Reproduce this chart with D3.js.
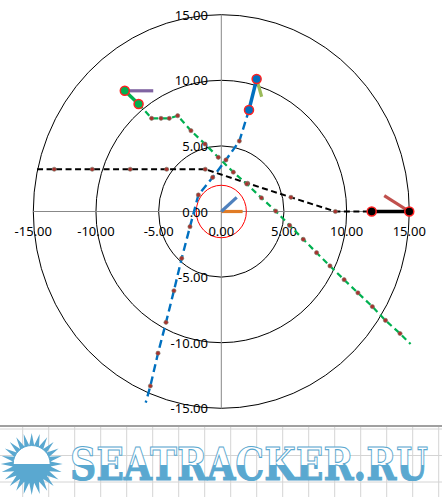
<!DOCTYPE html>
<html><head><meta charset="utf-8">
<script src="https://cdn.jsdelivr.net/npm/d3@7/dist/d3.min.js"></script>
<style>body{margin:0;background:#fff}svg{display:block}</style>
</head><body>
<svg id="c" width="442" height="497"></svg>
<script>
// ---- data ----
const ringRadii = [5, 10, 15];
const safetyRadius = 2;
const tickValues = [-15, -10, -5, 0, 5, 10, 15];
const tickLabels = ["-15.00", "-10.00", "-5.00", "0.00", "5.00", "10.00", "15.00"];

const blackTrack = [[-14.7,3.22],[-13.33,3.22],[-10.3,3.22],[-7.27,3.22],[-4.36,3.22],[-1.28,3.22],[2.1,2.15],[5.56,1.08],[9.1,0],[12,0]];
const blackBig = [[12,0],[15,0]];
const greenTrack = [[-6.6,8.2],[-5.56,7.1],[-4.81,7.1],[-4.15,7.1],[-3.48,7.3],[-2.42,6.16],[-1.3,5.14],[-0.24,4.13],[0.96,3.0],[2.03,2.1],[3.2,1.04],[4.34,0.03],[5.45,-1.06],[6.54,-2.12],[7.6,-3.14],[8.67,-4.15],[9.8,-5.2],[10.9,-6.2],[12.05,-7.25],[13.1,-8.3],[14.26,-9.3],[15.1,-10.1]];
const greenBig = [[-7.7,9.2],[-6.6,8.2]];
const blueTrack = [[2.21,7.74],[1.44,5.37],[0.37,3.93],[-0.69,2.6],[-1.83,1.26],[-2.5,-1.16],[-3.16,-3.57],[-3.78,-6.04],[-4.41,-8.45],[-5.05,-10.8],[-5.66,-13.3],[-6.03,-14.57]];
const blueBig = [[2.21,7.74],[2.82,10.1]];
const vectors = [
  {from:[-7.7,9.2], to:[-5.43,9.2], color:"#8064a2"},
  {from:[2.82,10.1], to:[3.22,8.75], color:"#9bbb59"},
  {from:[15,0], to:[13.0,1.21], color:"#c0504d"},
  {from:[0,0], to:[1.7,0], color:"#e07b25"},
  {from:[0,0], to:[1.23,1.08], color:"#4f81bd"}
];
const logoText = "SEATRACKER.RU";

// ---- drawing ----
const svg = d3.select("#c");
const x = d3.scaleLinear().domain([-15, 15]).range([33.3, 409.3]);
const y = d3.scaleLinear().domain([-15, 15]).range([408.3, 14.7]);
const line = d3.line().x(d => x(d[0])).y(d => y(d[1]));
const kx = x(1) - x(0), ky = y(0) - y(1);

const g = svg.append("g");
g.selectAll("ellipse.ring").data(ringRadii).join("ellipse")
  .attr("cx", x(0)).attr("cy", y(0))
  .attr("rx", d => d * kx).attr("ry", d => d * ky)
  .attr("fill", "none").attr("stroke", "#000").attr("stroke-width", 1);
g.append("line").attr("x1", x(0)).attr("x2", x(0)).attr("y1", y(15)).attr("y2", y(-15)).attr("stroke", "#888");
g.append("line").attr("x1", x(-15)).attr("x2", x(15)).attr("y1", y(0)).attr("y2", y(0)).attr("stroke", "#888");
g.append("ellipse").attr("cx", x(0)).attr("cy", y(0))
  .attr("rx", safetyRadius * kx).attr("ry", safetyRadius * ky)
  .attr("fill", "none").attr("stroke", "#ff0000").attr("stroke-width", 1);

const font = "'Noto Sans', 'DejaVu Sans', sans-serif";
g.selectAll("text.xl").data(tickValues).join("text")
  .attr("x", d => x(d)).attr("y", y(0) + 19)
  .attr("text-anchor", "middle").attr("dominant-baseline", "central")
  .attr("font-family", font).attr("font-size", 13).attr("fill", "#000")
  .text((d, i) => tickLabels[i]);
g.selectAll("text.yl").data(tickValues).join("text")
  .attr("x", 208).attr("y", d => y(d))
  .attr("text-anchor", "end").attr("dominant-baseline", "central")
  .attr("font-family", font).attr("font-size", 13).attr("fill", "#000")
  .text((d, i) => tickLabels[i]);

g.selectAll("line.vec").data(vectors).join("line")
  .attr("x1", d => x(d.from[0])).attr("y1", d => y(d.from[1]))
  .attr("x2", d => x(d.to[0])).attr("y2", d => y(d.to[1]))
  .attr("stroke", d => d.color).attr("stroke-width", 3.2);

function track(data, color, dash, width) {
  g.append("path").attr("d", line(data)).attr("fill", "none")
    .attr("stroke", color).attr("stroke-width", width).attr("stroke-dasharray", dash);
  g.selectAll(null).data(data.slice(1, data.length - 1)).join("circle")
    .attr("cx", d => x(d[0])).attr("cy", d => y(d[1])).attr("r", 2.1)
    .attr("fill", "#a8322e").attr("stroke", "#7a7a6a").attr("stroke-width", 0.6);
}
track(blackTrack, "#000", "6,3.5", 2);
track(greenTrack, "#00b050", "6,4", 2.2);
track(blueTrack, "#0070c0", "8,4.5", 2.4);

function big(data, color) {
  g.append("path").attr("d", line(data)).attr("fill", "none")
    .attr("stroke", color).attr("stroke-width", 3.5);
  g.selectAll(null).data(data).join("circle")
    .attr("cx", d => x(d[0])).attr("cy", d => y(d[1])).attr("r", 4.5)
    .attr("fill", color).attr("stroke", "#ff2020").attr("stroke-width", 1.5);
}
big(blackBig, "#000");
big(greenBig, "#00b050");
big(blueBig, "#0070c0");

// ---- logo ----
const L = svg.append("g");
const defs = svg.append("defs");
const grad = defs.append("linearGradient").attr("id", "half")
  .attr("gradientUnits", "objectBoundingBox").attr("x1", 0).attr("x2", 0).attr("y1", 0).attr("y2", 1);
grad.append("stop").attr("offset", "0.52").attr("stop-color", "#ffffff");
grad.append("stop").attr("offset", "0.52").attr("stop-color", "#5aa8d0");
L.append("rect").attr("x", 0).attr("y", 426).attr("width", 442).attr("height", 71).attr("fill", "#fff");
const gx = d3.range(22.7, 442, 26);
L.selectAll("line.gv").data(gx).join("line")
  .attr("x1", d => d).attr("x2", d => d).attr("y1", 427).attr("y2", 497)
  .attr("stroke", "#d4d4d4").attr("stroke-width", 1);
L.selectAll("line.gh").data([429, 455.5, 482]).join("line")
  .attr("x1", 0).attr("x2", 442).attr("y1", d => d).attr("y2", d => d)
  .attr("stroke", "#d4d4d4").attr("stroke-width", 1);
L.append("line").attr("x1", 0).attr("x2", 442).attr("y1", 426).attr("y2", 426)
  .attr("stroke", "#a0a0a0").attr("stroke-width", 2);
const cx0 = 31.7, cy0 = 464, nR = 24;
const pts = d3.range(nR * 2).map(i => {
  const a = i * Math.PI / nR - Math.PI / 2;
  const r = i % 2 === 0 ? 31 : 19;
  return [cx0 + r * Math.cos(a), cy0 + r * Math.sin(a)];
});
L.append("polygon").attr("points", pts.map(p => p.join(",")).join(" ")).attr("fill", "#5aa8d0");
L.append("circle").attr("cx", cx0).attr("cy", cy0).attr("r", 18.5).attr("fill", "#fff").attr("stroke", "#5aa8d0").attr("stroke-width", 1);
L.append("path").attr("d", d3.arc().innerRadius(0).outerRadius(19)({startAngle: Math.PI/2, endAngle: Math.PI*1.5}))
  .attr("transform", `translate(${cx0},${cy0})`).attr("fill", "#5aa8d0");
L.append("text").attr("transform", "translate(70,480) scale(1,1.35)")
  .attr("x", 0).attr("y", 0)
  .attr("textLength", 358).attr("lengthAdjust", "spacingAndGlyphs")
  .attr("font-family", "'DejaVu Serif', 'Liberation Serif', serif").attr("font-weight", "bold")
  .attr("font-size", 33).attr("fill", "url(#half)").attr("stroke", "#5aa8d0").attr("stroke-width", 0.8)
  .text(logoText);
</script>
</body></html>
